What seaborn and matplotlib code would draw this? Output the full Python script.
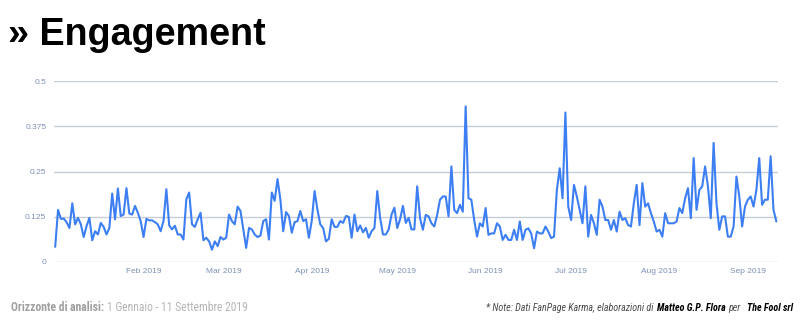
import matplotlib
matplotlib.use("Agg")
import matplotlib.pyplot as plt
import pandas as pd
import seaborn as sns
from matplotlib import font_manager

# Daily engagement rate, 1 Jan - 11 Sep 2019, one list per month
jan = [0.042, 0.144, 0.119, 0.120, 0.110, 0.094, 0.162, 0.104, 0.122, 0.104,
       0.069, 0.099, 0.122, 0.060, 0.085, 0.076, 0.108, 0.097, 0.076, 0.094,
       0.189, 0.118, 0.203, 0.127, 0.131, 0.204, 0.134, 0.131, 0.155, 0.136,
       0.113]
feb = [0.069, 0.119, 0.115, 0.115, 0.110, 0.104, 0.085, 0.113, 0.201, 0.101,
       0.090, 0.100, 0.076, 0.076, 0.062, 0.173, 0.192, 0.104, 0.097, 0.118,
       0.136, 0.060, 0.067, 0.057, 0.034, 0.057, 0.044, 0.069]
mar = [0.062, 0.067, 0.131, 0.113, 0.104, 0.153, 0.141, 0.090, 0.039, 0.094,
       0.090, 0.076, 0.069, 0.073, 0.113, 0.118, 0.062, 0.192, 0.169, 0.229,
       0.173, 0.085, 0.138, 0.127, 0.081, 0.110, 0.113, 0.141, 0.113, 0.118,
       0.067]
apr = [0.113, 0.196, 0.145, 0.104, 0.094, 0.057, 0.064, 0.118, 0.097, 0.097,
       0.113, 0.108, 0.127, 0.125, 0.067, 0.131, 0.085, 0.101, 0.082, 0.094,
       0.067, 0.085, 0.094, 0.196, 0.122, 0.076, 0.076, 0.090, 0.131, 0.150]
may = [0.094, 0.118, 0.155, 0.108, 0.122, 0.090, 0.090, 0.209, 0.121, 0.089,
       0.130, 0.126, 0.107, 0.098, 0.130, 0.172, 0.181, 0.181, 0.126, 0.264,
       0.144, 0.135, 0.158, 0.139, 0.430, 0.176, 0.172, 0.116, 0.070, 0.107,
       0.098]
jun = [0.149, 0.075, 0.079, 0.079, 0.107, 0.098, 0.061, 0.075, 0.061, 0.061,
       0.089, 0.061, 0.112, 0.061, 0.089, 0.093, 0.079, 0.038, 0.084, 0.079,
       0.079, 0.098, 0.084, 0.066, 0.070, 0.199, 0.259, 0.176, 0.413, 0.153]
jul = [0.116, 0.213, 0.181, 0.144, 0.107, 0.209, 0.070, 0.130, 0.107, 0.075,
       0.172, 0.153, 0.116, 0.116, 0.089, 0.116, 0.084, 0.139, 0.116, 0.121,
       0.102, 0.098, 0.162, 0.213, 0.102, 0.218, 0.153, 0.162, 0.135, 0.112,
       0.084]
aug = [0.089, 0.070, 0.135, 0.107, 0.107, 0.107, 0.112, 0.149, 0.135, 0.176,
       0.204, 0.121, 0.287, 0.144, 0.199, 0.209, 0.264, 0.209, 0.121, 0.329,
       0.162, 0.089, 0.126, 0.126, 0.070, 0.070, 0.098, 0.236, 0.181, 0.098,
       0.153]
sep = [0.172, 0.181, 0.153, 0.199, 0.287, 0.158, 0.172, 0.172, 0.292, 0.144,
       0.112]

start_date = "2019-01-01"
y_ticks = [0, 0.125, 0.25, 0.375, 0.5]
y_labels = ["0", "0.125", "0.25", "0.375", "0.5"]
month_ticks = ["2019-02-01", "2019-03-01", "2019-04-01", "2019-05-01",
               "2019-06-01", "2019-07-01", "2019-08-01", "2019-09-01"]
month_labels = ["Feb 2019", "Mar 2019", "Apr 2019", "May 2019",
                "Jun 2019", "Jul 2019", "Aug 2019", "Sep 2019"]

title = "» Engagement"
period_parts = [("Orizzonte di analisi:", "bold", "normal", "#a0a0a0", 3),
                ("1 Gennaio - 11 Settembre 2019", "normal", "normal", "#b5b5b5", 0)]
note_parts = [("* Note: Dati FanPage Karma, elaborazioni di", "normal", "italic", "#4a4a4a", 3),
              ("Matteo G.P. Flora", "bold", "italic", "#000000", 3),
              ("per", "normal", "italic", "#4a4a4a", 6),
              ("The Fool srl", "bold", "italic", "#000000", 0)]

values = jan + feb + mar + apr + may + jun + jul + aug + sep
df = pd.DataFrame({
    "date": pd.date_range(start_date, periods=len(values), freq="D"),
    "engagement": values,
})

sns.set_theme(style="white")
plt.rcParams["font.family"] = ["Liberation Sans", "DejaVu Sans"]

# Pick a condensed face for the footer when one is available
fonts = font_manager.fontManager.ttflist
names = {f.name for f in fonts}
foot_family, foot_stretch = "Liberation Sans", "normal"
for cand in ["Liberation Sans Narrow", "Roboto Condensed", "Open Sans Condensed"]:
    if cand in names:
        foot_family = cand
        break
else:
    if any(f.name == "DejaVu Sans" and f.stretch == "condensed" for f in fonts):
        foot_family, foot_stretch = "DejaVu Sans", "condensed"

W, H = 800, 327
LINE = "#3d7ff2"
GRID = "#c6ccd8"
TICK = "#7f90b6"

fig = plt.figure(figsize=(W / 100, H / 100), dpi=100)
fig.patch.set_facecolor("white")
ax = fig.add_axes([54 / W, 65 / H, (778 - 54) / W, 181 / H])

sns.lineplot(data=df, x="date", y="engagement", ax=ax, color=LINE,
             linewidth=1.5, zorder=3)

ax.set_ylim(0, 0.5)
ax.set_yticks(y_ticks)
ax.set_yticklabels(y_labels)
ax.set_xlim(df["date"].iloc[0] - pd.Timedelta(hours=10),
            df["date"].iloc[-1] + pd.Timedelta(hours=14))
ax.set_xticks(pd.to_datetime(month_ticks))
ax.set_xticklabels(month_labels)
ax.set_xlabel("")
ax.set_ylabel("")
ax.set_axisbelow(True)
ax.grid(axis="y", color=GRID, linewidth=1.0)
ax.grid(axis="x", visible=False)
for side in ax.spines.values():
    side.set_visible(False)
ax.tick_params(axis="y", length=2, width=1.0, color=GRID, pad=3.5,
               labelsize=6.0, labelcolor=TICK)
ax.tick_params(axis="x", length=0, pad=4, labelsize=6.0, labelcolor=TICK)

renderer = fig.canvas.get_renderer()


def px_width(t):
    return t.get_window_extent(renderer).width


def text_run(parts, x0, x1, base, max_size):
    """Lay out styled pieces on one baseline, sized to span x0..x1 pixels."""
    items = []
    for text, weight, style, col, gap in parts:
        t = fig.text(0, base, text, fontsize=10, fontweight=weight,
                     fontstyle=style, color=col, family=foot_family,
                     fontstretch=foot_stretch, va="baseline")
        items.append((t, gap))
    width10 = sum(px_width(t) for t, _ in items)
    gaps = sum(g for _, g in items)
    size = min(max_size, 10 * (x1 - x0 - gaps) / width10)
    for t, _ in items:
        t.set_fontsize(size)
    total = sum(px_width(t) + g for t, g in items)
    x = x1 - total
    for t, g in items:
        t.set_x(x / W)
        x += px_width(t) + g


# Heading
fig.text(8 / W, 1 - 45 / H, title, fontsize=27.2, fontweight="bold",
         color="black", va="baseline", ha="left")

# Footer: period of analysis on the left, source note on the right
base = 1 - 311 / H
text_run(period_parts, 12, 248, base, 8.5)
text_run(note_parts, 487, 793, base, 8.0)

fig.savefig("out.png", dpi=100, facecolor="white")
